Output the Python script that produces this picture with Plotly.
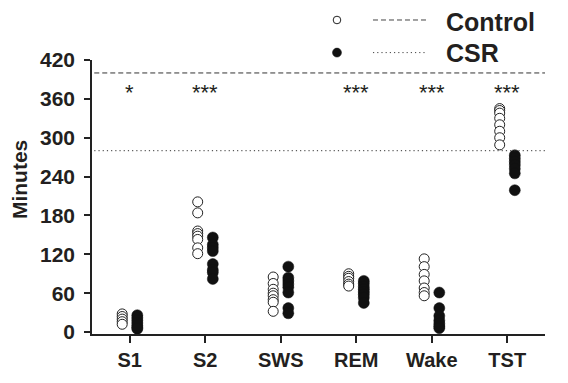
import plotly.graph_objects as go

categories = ["S1", "S2", "SWS", "REM", "Wake", "TST"]

control_s1 = [28, 24, 20, 16, 12]
control_s2 = [201, 184, 156, 152, 148, 143, 130, 121]
control_sws = [85, 75, 66, 60, 56, 50, 46, 32]
control_rem = [90, 86, 83, 78, 74, 71]
control_wake = [113, 101, 89, 79, 68, 61, 56]
control_tst = [345, 342, 338, 330, 320, 310, 300, 289]

csr_s1 = [26, 22, 18, 14, 10, 7, 5]
csr_s2 = [146, 135, 130, 125, 105, 96, 92, 82]
csr_sws = [101, 84, 79, 74, 69, 61, 37, 29]
csr_rem = [79, 75, 70, 66, 62, 58, 53, 45]
csr_wake = [61, 37, 25, 18, 13, 9, 6]
csr_tst = [273, 268, 263, 258, 252, 245, 219]

control_ref_line = 400
csr_ref_line = 280

star_labels = ["*", "***", "", "***", "***", "***"]
star_level = 370

y_tick_vals = [0, 60, 120, 180, 240, 300, 360, 420]

control_groups = [control_s1, control_s2, control_sws, control_rem, control_wake, control_tst]
csr_groups = [csr_s1, csr_s2, csr_sws, csr_rem, csr_wake, csr_tst]


def flatten(groups):
    xs, ys = [], []
    for cat, vals in zip(categories, groups):
        xs += [cat] * len(vals)
        ys += vals
    return xs, ys


cx, cy = flatten(control_groups)
sx, sy = flatten(csr_groups)

FONT = "Liberation Sans, Arial, Helvetica, sans-serif"
INK = "#231f20"

fig = go.Figure()
fig.add_trace(go.Scatter(
    x=cx, y=cy, mode="markers", name="Control", orientation="v",
    marker=dict(symbol="circle", size=10, color="white",
                line=dict(color="#222222", width=1)),
    showlegend=False, cliponaxis=False,
))
fig.add_trace(go.Scatter(
    x=sx, y=sy, mode="markers", name="CSR", orientation="v",
    marker=dict(symbol="circle", size=11, color="#111111",
                line=dict(color="#111111", width=0.5)),
    showlegend=False, cliponaxis=False,
))

shapes = [
    dict(type="line", xref="paper", yref="y", x0=0.005, x1=1.0,
         y0=control_ref_line, y1=control_ref_line,
         line=dict(color="#333333", width=1, dash="5px,3px")),
    dict(type="line", xref="paper", yref="y", x0=0.005, x1=1.0,
         y0=csr_ref_line, y1=csr_ref_line,
         line=dict(color="#333333", width=1, dash="1.2px,3px")),
]

# manual legend
leg_cx = 0.5408
leg_rows = [1.1460, 1.027]
shapes.append(dict(type="circle", xref="paper", yref="paper",
                   xsizemode="pixel", ysizemode="pixel",
                   xanchor=leg_cx, yanchor=leg_rows[0],
                   x0=-3.8, x1=3.8, y0=-3.8, y1=3.8,
                   fillcolor="white", line=dict(color="#222222", width=1)))
shapes.append(dict(type="circle", xref="paper", yref="paper",
                   xsizemode="pixel", ysizemode="pixel",
                   xanchor=leg_cx, yanchor=leg_rows[1],
                   x0=-4.5, x1=4.5, y0=-4.5, y1=4.5,
                   fillcolor="#111111", line=dict(color="#111111", width=0.5)))
shapes.append(dict(type="line", xref="paper", yref="paper",
                   x0=0.6203, x1=0.7395, y0=leg_rows[0], y1=leg_rows[0],
                   line=dict(color="#444444", width=1, dash="5px,3px")))
shapes.append(dict(type="line", xref="paper", yref="paper",
                   x0=0.6203, x1=0.7395, y0=leg_rows[1], y1=leg_rows[1],
                   line=dict(color="#444444", width=1, dash="1.2px,3px")))

annotations = []
for cat, s in zip(categories, star_labels):
    if s:
        annotations.append(dict(x=cat, y=star_level, xref="x", yref="y",
                                text=s, showarrow=False,
                                font=dict(family=FONT, size=22, color=INK)))
annotations.append(dict(x=0.777, y=1.137, xref="paper", yref="paper",
                        text="Control", showarrow=False, xanchor="left", yanchor="middle",
                        font=dict(family=FONT, size=25, color=INK, weight="bold")))
annotations.append(dict(x=0.777, y=leg_rows[1], xref="paper", yref="paper",
                        text="CSR", showarrow=False, xanchor="left", yanchor="middle",
                        font=dict(family=FONT, size=25, color=INK, weight="bold")))
annotations.append(dict(x=-0.161, y=0.562, xref="paper", yref="paper",
                        text="Minutes", showarrow=False, textangle=-90,
                        xanchor="center", yanchor="middle",
                        font=dict(family=FONT, size=21, color=INK, weight="bold")))

# the page body has an 8px default margin, so the figure is sized to fit the window
fig.update_layout(
    width=552, height=367,
    margin=dict(l=84, r=15, t=52, b=41),
    paper_bgcolor="white", plot_bgcolor="white",
    scattermode="group", scattergap=0.6,
    shapes=shapes, annotations=annotations,
    showlegend=False,
)
fig.update_xaxes(
    type="category", categoryorder="array", categoryarray=categories,
    range=[-0.5, 5.5], showgrid=False, zeroline=False, automargin=False,
    showline=True, linecolor="#222222", linewidth=1.5,
    ticks="outside", ticklen=7, tickwidth=1.5, tickcolor="#222222",
    tickfont=dict(family=FONT, size=20, color=INK, weight="bold"),
)
fig.update_yaxes(
    range=[-3, 420], tickvals=y_tick_vals, showgrid=False, zeroline=False,
    automargin=False,
    showline=True, linecolor="#222222", linewidth=1.5,
    ticks="outside", ticklen=6, tickwidth=1.5, tickcolor="#222222",
    ticklabelstandoff=5,
    tickfont=dict(family=FONT, size=21, color=INK, weight="bold"),
)

fig.write_html("out.html")
